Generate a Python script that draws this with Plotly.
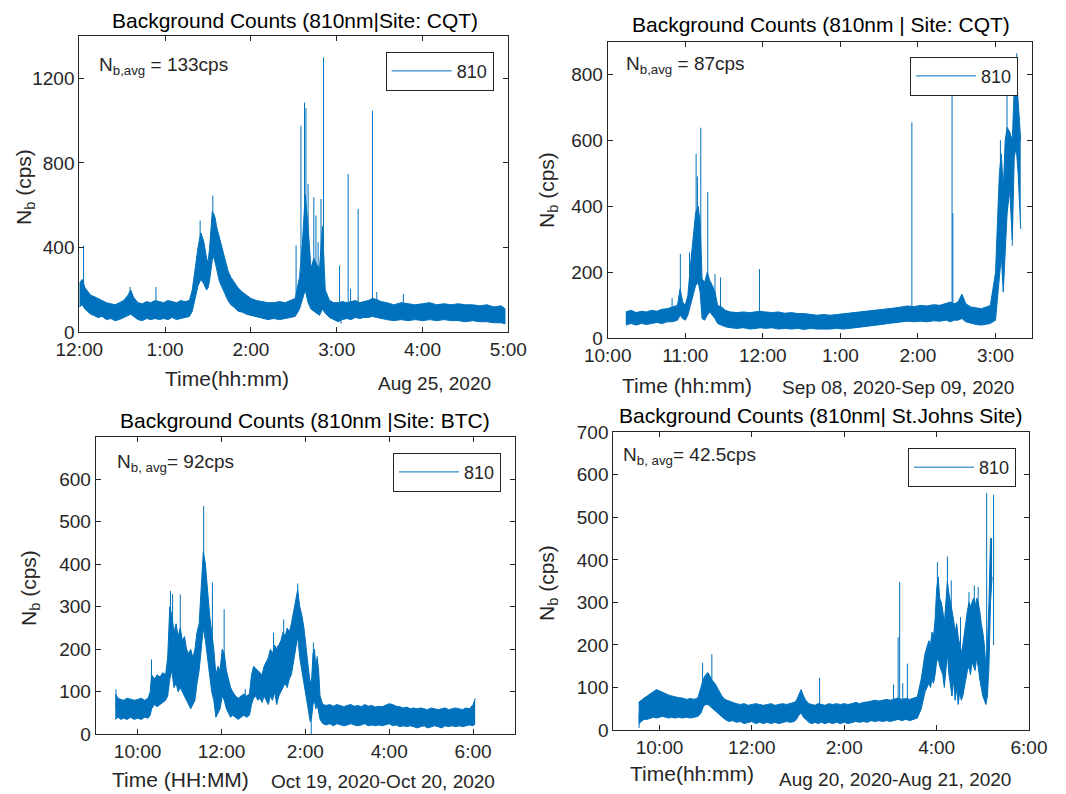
import numpy as np
import pandas as pd
import plotly.graph_objects as go

# ---------------- DATA ----------------
# times are minutes after each panel's start time; counts in cps
# band = dense noisy trace envelope (lower / upper), spikes = isolated excursions

# Panel 1: CQT, Aug 25 2020, from 12:00 AM
p1_start = "2020-08-25 00:00"
p1_t = [0, 2, 4, 6, 8, 10, 13, 16, 19, 22, 25, 28, 31, 34, 36, 38, 41, 44, 47, 50, 53, 56, 59, 62, 65, 68,
        71, 74, 77, 79, 81, 83, 85, 87, 89, 90, 91, 92, 93, 94, 95, 96, 98, 100, 102, 104, 106, 108, 111, 114,
        117, 120, 124, 128, 132, 136, 140, 144, 148, 151, 154, 156, 158, 160, 162, 164, 166, 168, 170, 172,
        175, 178, 181, 184, 187, 190, 193, 196, 199, 202, 205, 208, 211, 215, 220, 225, 230, 235, 240, 245,
        250, 255, 260, 265, 270, 275, 280, 285, 290, 295, 298]
p1_lo = [120, 130, 110, 95, 85, 80, 70, 75, 60, 65, 55, 60, 70, 80, 85, 75, 60, 55, 65, 60, 65, 60, 65, 60, 70, 60,
         65, 70, 75, 100, 160, 220, 250, 230, 200, 210, 240, 300, 340, 360, 330, 290, 240, 210, 180, 150, 130, 120,
         100, 95, 85, 80, 70, 65, 60, 65, 60, 65, 70, 75, 110, 150, 200, 140, 110, 100, 90, 80, 110, 90, 70, 60,
         50, 60, 65, 60, 70, 65, 70, 70, 75, 70, 65, 60, 55, 60, 55, 60, 55, 60, 55, 60, 55, 55, 50, 55, 50, 50,
         45, 45, 40]
p1_hi = [230, 250, 210, 190, 175, 170, 160, 150, 140, 135, 130, 140, 150, 175, 200, 165, 140, 135, 145, 140, 150,
         145, 140, 150, 145, 140, 150, 145, 150, 200, 300, 400, 470, 430, 350, 330, 390, 500, 570, 560, 540, 500,
         450, 400, 340, 290, 260, 240, 210, 190, 175, 160, 150, 145, 140, 140, 145, 140, 150, 160, 260, 420, 650,
         500, 300, 350, 320, 300, 500, 200, 150, 140, 140, 145, 140, 145, 150, 140, 145, 150, 160, 155, 145, 140,
         130, 140, 135, 130, 135, 140, 130, 135, 130, 135, 130, 130, 125, 130, 120, 125, 110]
p1_spk_t = [3, 35.5, 53.6, 84.5, 93.4, 151.6, 155, 157.5, 158.5, 160, 164, 165.5, 167, 169, 170.8, 182, 183,
            188, 189.7, 195, 205, 208, 226.6]
p1_spk_base = [180, 140, 120, 300, 450, 120, 180, 250, 250, 200, 150, 130, 120, 150, 200, 100, 80, 90, 100, 90,
               110, 100, 100]
p1_spk_peak = [410, 214, 214, 528, 646, 410, 976, 1086, 1060, 701, 638, 552, 426, 630, 1299, 316, 40, 748, 206,
               583, 1047, 190, 182]

# Panel 2: CQT, Sep 08-09 2020, from 10:00 PM
p2_start = "2020-09-08 22:00"
p2_t = [14, 18, 22, 26, 30, 34, 38, 42, 46, 50, 54, 56, 58, 60, 62, 64, 66, 68, 70, 71.5, 73, 75, 77, 79, 81,
        83, 85, 88, 91, 95, 100, 105, 110, 115, 118, 122, 127, 132, 137, 142, 147, 152, 157, 162, 167, 172,
        177, 182, 187, 192, 197, 202, 207, 212, 217, 222, 227, 232, 237, 242, 247, 252, 257, 262, 265, 268,
        271, 274, 277, 281, 285, 289, 293, 296, 298, 300, 301.5, 303, 304.5, 306, 307.5, 309, 311, 313,
        314.5, 316, 317.5, 319, 319.5]
p2_lo = [40, 45, 40, 45, 42, 45, 48, 45, 50, 50, 55, 70, 60, 55, 70, 100, 130, 160, 170, 140, 60, 55, 70, 80, 70,
         60, 45, 40, 35, 32, 30, 32, 28, 30, 32, 30, 32, 28, 30, 28, 30, 27, 30, 28, 27, 28, 30, 28, 30, 32, 35,
         38, 40, 42, 45, 48, 50, 52, 50, 52, 50, 53, 52, 55, 50, 55, 55, 60, 50, 45, 42, 40, 42, 45, 50, 55, 120,
         180, 250, 140, 280, 380, 450, 300, 550, 580, 500, 350, 332]
p2_hi = [80, 85, 78, 82, 80, 85, 82, 88, 90, 95, 100, 150, 110, 100, 130, 220, 300, 380, 400, 350, 180, 170, 200,
         175, 160, 140, 100, 95, 85, 80, 78, 80, 78, 80, 82, 80, 78, 80, 76, 78, 75, 75, 72, 70, 72, 70, 72, 74,
         76, 78, 80, 82, 85, 88, 90, 92, 95, 98, 96, 100, 98, 102, 100, 105, 110, 105, 110, 134, 105, 95, 92, 90,
         95, 100, 149, 200, 350, 500, 560, 450, 600, 640, 626, 600, 760, 800, 720, 650, 600]
p2_spk_t = [49.8, 56.2, 63.3, 68.4, 69.4, 72, 77.4, 83, 87.3, 117.4, 235.3, 266.4, 267, 303.8, 308.9, 313, 316.4]
p2_spk_base = [70, 80, 100, 250, 250, 200, 120, 100, 70, 60, 80, 100, 80, 300, 400, 450, 650]
p2_spk_peak = [122, 256, 261, 560, 491, 639, 444, 195, 185, 210, 655, 780, 380, 601, 758, 281, 865]

# Panel 3: BTC, Oct 19-20 2020, from 9:00 PM
p3_start = "2020-10-19 21:00"
p3_t = [28, 32, 36, 40, 45, 50, 55, 60, 65, 70, 75, 78, 80, 84, 88, 92, 96, 100, 103, 106, 109, 112, 115, 118,
        121, 124, 127, 130, 133, 136, 139, 142, 145, 148, 151, 154, 157, 160, 163, 166, 169, 172, 175, 178, 181,
        184, 187, 190, 193, 196, 200, 204, 208, 212, 216, 220, 223, 226, 229, 232, 235, 238, 241, 244, 247, 250,
        253, 256, 259, 262, 265, 268, 271, 274, 277, 280, 283, 286, 289, 292, 295, 298, 301, 304, 307, 309, 311,
        313, 315, 317, 319, 321, 325, 330, 335, 340, 345, 350, 355, 360, 365, 370, 375, 380, 385, 390, 395, 400,
        405, 410, 415, 420, 425, 430, 435, 440, 445, 450, 455, 460, 465, 470, 475, 480, 485, 490, 495, 500, 505,
        510, 515, 520, 525, 530, 535, 540, 543]
p3_lo = [35, 40, 35, 38, 35, 40, 35, 38, 35, 40, 38, 45, 60, 70, 65, 70, 75, 80, 90, 130, 150, 110, 120, 100, 110,
         100, 90, 80, 70, 60, 70, 80, 120, 150, 200, 250, 220, 180, 140, 100, 80, 40, 50, 60, 90, 80, 60, 50, 40,
         45, 40, 35, 40, 45, 40, 45, 70, 85, 90, 80, 85, 75, 90, 80, 70, 90, 80, 100, 70, 90, 100, 110, 120, 110,
         130, 140, 170, 200, 230, 180, 150, 120, 90, 60, 30, 40, 70, 80, 60, 70, 55, 35, 25, 22, 25, 20, 25, 22,
         20, 22, 25, 22, 20, 22, 25, 20, 22, 20, 22, 20, 22, 25, 20, 22, 18, 20, 18, 20, 18, 15, 18, 20, 15, 18,
         20, 18, 15, 20, 18, 20, 18, 20, 18, 20, 22, 20, 25]
p3_hi = [95, 85, 82, 80, 85, 82, 80, 82, 85, 80, 85, 100, 140, 130, 140, 135, 145, 140, 180, 300, 280, 240, 260,
         230, 250, 220, 230, 200, 190, 200, 180, 200, 240, 260, 350, 430, 400, 330, 280, 240, 200, 140, 160, 150,
         200, 190, 150, 130, 110, 100, 90, 85, 90, 95, 90, 95, 140, 160, 155, 150, 145, 140, 160, 170, 180, 200,
         190, 210, 200, 210, 220, 240, 230, 250, 240, 260, 290, 320, 340, 300, 280, 250, 200, 160, 120, 130, 190,
         200, 160, 180, 150, 90, 70, 68, 70, 66, 70, 68, 65, 68, 70, 66, 68, 65, 70, 66, 68, 64, 66, 65, 68, 72,
         70, 66, 65, 62, 64, 60, 62, 60, 62, 60, 58, 62, 60, 58, 60, 62, 58, 60, 62, 60, 58, 62, 60, 70, 84]
p3_spk_t = [29, 79.8, 107, 110, 121, 154.5, 167, 183.8, 214, 243, 254.5, 260, 269, 289, 308.4, 311.5, 317]
p3_spk_base = [60, 70, 150, 160, 150, 300, 150, 120, 60, 100, 120, 100, 150, 250, 60, 100, 100]
p3_spk_peak = [106, 176, 337, 330, 329, 537, 357, 294, 106, 169, 239, 208, 270, 355, 0, 216, 184]

# Panel 4: St.Johns, Aug 20-21 2020, from 9:00 PM
p4_start = "2020-08-20 21:00"
p4_t = [33, 36, 40, 44, 48, 52, 56, 60, 64, 68, 72, 76, 80, 85, 90, 95, 100, 105, 110, 114, 117, 120, 123, 126,
        129, 132, 135, 138, 141, 145, 150, 155, 160, 165, 170, 175, 180, 185, 190, 195, 200, 205, 210, 215, 220,
        225, 230, 235, 238, 241, 244, 247, 250, 254, 258, 262, 266, 270, 275, 280, 285, 290, 295, 300, 305, 310,
        315, 320, 325, 330, 335, 340, 345, 350, 355, 360, 365, 370, 375, 380, 385, 390, 395, 400, 405, 410, 412,
        414, 416, 418, 420, 422, 424, 426, 428, 430, 432, 434, 436, 438, 440, 442, 444, 446, 448, 450, 452, 454,
        456, 458, 460, 462, 464, 466, 468, 470, 472, 474, 476, 478, 480, 482, 484, 486, 488, 490, 492, 494]
p4_lo = [15, 20, 25, 25, 28, 30, 28, 30, 32, 30, 28, 30, 28, 30, 28, 30, 28, 30, 32, 40, 55, 60, 60, 55, 50, 45,
         40, 35, 30, 25, 20, 22, 18, 20, 15, 18, 20, 15, 18, 15, 18, 15, 18, 15, 18, 20, 18, 20, 25, 35, 40, 30,
         25, 18, 15, 18, 15, 18, 15, 18, 15, 18, 15, 18, 15, 18, 20, 18, 20, 18, 22, 20, 22, 20, 22, 20, 22, 25,
         22, 25, 22, 25, 28, 50, 90, 110, 100, 120, 110, 130, 160, 170, 150, 140, 130, 100, 150, 180, 130, 100,
         80, 120, 70, 100, 60, 90, 70, 80, 100, 120, 140, 150, 130, 160, 150, 140, 170, 150, 120, 100, 80, 70,
         60, 80, 150, 300, 360]
p4_hi = [65, 70, 75, 80, 85, 90, 95, 92, 88, 85, 82, 80, 78, 76, 75, 72, 74, 72, 76, 100, 120, 130, 135, 125, 115,
         110, 100, 90, 80, 72, 68, 65, 62, 60, 62, 58, 60, 62, 60, 58, 60, 62, 58, 60, 62, 60, 62, 65, 70, 85, 95,
         80, 70, 62, 60, 58, 62, 60, 58, 62, 60, 62, 60, 62, 60, 62, 65, 62, 65, 66, 68, 70, 68, 70, 72, 70, 72,
         75, 72, 74, 72, 75, 78, 120, 180, 210, 200, 230, 220, 260, 330, 360, 310, 300, 280, 250, 300, 350, 320,
         300, 280, 260, 230, 250, 220, 200, 180, 200, 230, 260, 280, 300, 290, 300, 310, 290, 310, 300, 280, 250,
         230, 200, 150, 200, 300, 450, 450]
p4_spk_t = [33.5, 116, 128, 268, 364, 370, 372, 376, 382, 421, 434, 439, 451, 462, 469, 474, 485, 494]
p4_spk_base = [40, 80, 80, 40, 40, 50, 50, 40, 40, 200, 200, 150, 100, 150, 150, 150, 80, 200]
p4_spk_peak = [5, 158, 178, 123, 107, 218, 348, 110, 156, 395, 408, 352, 265, 324, 340, 336, 557, 553]

# ---------------- STYLE / LAYOUT ----------------
BLUE = "#0072BD"
AX = "#262626"
FONT = "Liberation Sans, Arial, sans-serif"
W, H = 1066, 794


def fx(px):
    return px / W


def fy(py):
    return 1 - py / H


def to_dt(start, mins):
    return list(pd.Timestamp(start) + pd.to_timedelta(np.asarray(mins, dtype=float), unit="m"))


panels = [
    dict(start=p1_start, t=p1_t, lo=p1_lo, hi=p1_hi, st=p1_spk_t, sb=p1_spk_base, sp=p1_spk_peak,
         box=(79.3, 36, 508.3, 332.3), xr=("2020-08-25 00:00", "2020-08-25 05:00"), dtick=1,
         tick0="2020-08-25 00:00", yr=(0, 1400), yt=[0, 400, 800, 1200],
         title="Background Counts (810nm|Site: CQT)", title_xy=(294.5, 20),
         xlab="Time(hh:mm)", xlab_xy=(226.7, 378), date="Aug 25, 2020", date_xy=(434.5, 383),
         ylab_xy=(25, 187), avg="N<sub>b,avg</sub> = 133cps", avg_xy=(97, 66),
         leg=(385.7, 51.7)),
    dict(start=p2_start, t=p2_t, lo=p2_lo, hi=p2_hi, st=p2_spk_t, sb=p2_spk_base, sp=p2_spk_peak,
         box=(607.7, 41.7, 1031.7, 338.3), xr=("2020-09-08 22:00", "2020-09-09 03:28"), dtick=1,
         tick0="2020-09-08 22:00", yr=(0, 900), yt=[0, 200, 400, 600, 800],
         title="Background Counts (810nm | Site: CQT)", title_xy=(820.8, 25),
         xlab="Time (hh:mm)", xlab_xy=(686.7, 385), date="Sep 08, 2020-Sep 09, 2020", date_xy=(897.5, 387),
         ylab_xy=(548, 190), avg="N<sub>b,avg</sub> = 87cps", avg_xy=(624, 65),
         leg=(910, 56.7)),
    dict(start=p3_start, t=p3_t, lo=p3_lo, hi=p3_hi, st=p3_spk_t, sb=p3_spk_base, sp=p3_spk_peak,
         box=(95.7, 436.7, 515, 734.3), xr=("2020-10-19 21:00", "2020-10-20 07:00"), dtick=2,
         tick0="2020-10-19 22:00", yr=(0, 700), yt=[0, 100, 200, 300, 400, 500, 600],
         title="Background Counts (810nm |Site: BTC)", title_xy=(305, 420),
         xlab="Time (HH:MM)", xlab_xy=(180, 779), date="Oct 19, 2020-Oct 20, 2020", date_xy=(383, 781),
         ylab_xy=(30, 588), avg="N<sub>b, avg</sub>= 92cps", avg_xy=(115, 463),
         leg=(393, 452.7)),
    dict(start=p4_start, t=p4_t, lo=p4_lo, hi=p4_hi, st=p4_spk_t, sb=p4_spk_base, sp=p4_spk_peak,
         box=(613.3, 432.3, 1029, 730), xr=("2020-08-20 21:00", "2020-08-21 06:00"), dtick=2,
         tick0="2020-08-20 22:00", yr=(0, 700), yt=[0, 100, 200, 300, 400, 500, 600, 700],
         title="Background Counts (810nm| St.Johns Site)", title_xy=(821, 415),
         xlab="Time(hh:mm)", xlab_xy=(691.7, 773), date="Aug 20, 2020-Aug 21, 2020", date_xy=(895, 779),
         ylab_xy=(548, 583), avg="N<sub>b, avg</sub>= 42.5cps", avg_xy=(621, 456),
         leg=(908, 448)),
]

fig = go.Figure()
layout = dict(width=W, height=H, margin=dict(l=0, r=0, t=0, b=0, autoexpand=False), paper_bgcolor="white",
              plot_bgcolor="white", font=dict(family=FONT, color=AX), annotations=[])

for i, p in enumerate(panels, start=1):
    sfx = "" if i == 1 else str(i)
    xa, ya = "x" + sfx, "y" + sfx
    legname = "legend" + sfx
    xs = to_dt(p["start"], p["t"])
    fig.add_trace(go.Scatter(x=xs, y=p["lo"], mode="lines", line=dict(color=BLUE, width=1),
                             xaxis=xa, yaxis=ya, showlegend=False, hoverinfo="skip"))
    fig.add_trace(go.Scatter(x=xs, y=p["hi"], mode="lines", line=dict(color=BLUE, width=1),
                             fill="tonexty", fillcolor=BLUE, xaxis=xa, yaxis=ya, showlegend=False,
                             hoverinfo="skip"))
    sx, sy = [], []
    for t, b, pk in zip(to_dt(p["start"], p["st"]), p["sb"], p["sp"]):
        sx += [t, t, None]
        sy += [b, pk, None]
    fig.add_trace(go.Scatter(x=sx, y=sy, mode="lines", line=dict(color=BLUE, width=1), name="810",
                             xaxis=xa, yaxis=ya, showlegend=True, legend=legname))

    l, t, r, b = p["box"]
    axcommon = dict(showline=True, linecolor=AX, linewidth=1, mirror="ticks", ticks="inside", ticklen=5,
                    tickcolor=AX, showgrid=False, zeroline=False, automargin=False,
                    tickfont=dict(family=FONT, size=19, color=AX))
    layout["xaxis" + sfx] = dict(domain=[fx(l), fx(r)], anchor=ya, type="date",
                                 range=list(p["xr"]), tickformat="%-I:%M", dtick=p["dtick"] * 3600000,
                                 tick0=p["tick0"], **axcommon)
    layout["yaxis" + sfx] = dict(domain=[fy(b), fy(t)], anchor=xa, range=list(p["yr"]),
                                 tickvals=p["yt"], **axcommon)
    layout[legname] = dict(x=fx(p["leg"][0]), y=fy(p["leg"][1]), xanchor="left", yanchor="top",
                           bgcolor="white", bordercolor=AX, borderwidth=1, tracegroupgap=0,
                           font=dict(family=FONT, size=18, color=AX), itemwidth=60)

    ann = layout["annotations"]
    ann.append(dict(text=p["title"], x=fx(p["title_xy"][0]), y=fy(p["title_xy"][1]), xref="paper",
                    yref="paper", showarrow=False, xanchor="center", yanchor="middle",
                    font=dict(family=FONT, size=21, color="#000000")))
    ann.append(dict(text=p["xlab"], x=fx(p["xlab_xy"][0]), y=fy(p["xlab_xy"][1]), xref="paper",
                    yref="paper", showarrow=False, xanchor="center", yanchor="middle",
                    font=dict(family=FONT, size=21, color=AX)))
    ann.append(dict(text=p["date"], x=fx(p["date_xy"][0]), y=fy(p["date_xy"][1]), xref="paper",
                    yref="paper", showarrow=False, xanchor="center", yanchor="middle",
                    font=dict(family=FONT, size=19, color=AX)))
    ann.append(dict(text="N<sub>b</sub> (cps)", x=fx(p["ylab_xy"][0]), y=fy(p["ylab_xy"][1]), xref="paper",
                    yref="paper", showarrow=False, xanchor="center", yanchor="middle", textangle=-90,
                    font=dict(family=FONT, size=21, color=AX)))
    ann.append(dict(text=p["avg"], x=fx(p["avg_xy"][0]), y=fy(p["avg_xy"][1]), xref="paper",
                    yref="paper", showarrow=False, xanchor="left", yanchor="middle",
                    font=dict(family=FONT, size=19, color=AX)))

fig.update_layout(**layout)
fig.write_html("out.html")
